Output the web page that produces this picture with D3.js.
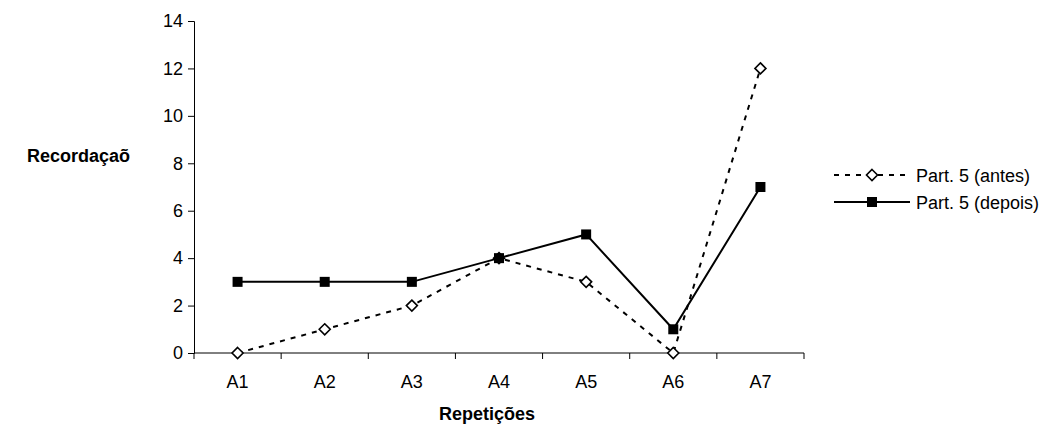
<!DOCTYPE html>
<html>
<head>
<meta charset="utf-8">
<script src="https://cdn.jsdelivr.net/npm/d3@7"></script>
<style>
  html, body { margin: 0; padding: 0; background: #fff; }
  svg text { font-family: "Liberation Sans", Arial, sans-serif; fill: #000; }
</style>
</head>
<body>
<svg id="chart" width="1050" height="433"></svg>
<script>
// Categories and series
const categories = ["A1", "A2", "A3", "A4", "A5", "A6", "A7"];
const antes = [0, 1, 2, 4, 3, 0, 12];
const depois = [3, 3, 3, 4, 5, 1, 7];
const yTicks = [0, 2, 4, 6, 8, 10, 12, 14];
const seriesNames = ["Part. 5 (antes)", "Part. 5 (depois)"];

const svg = d3.select("#chart");
const plotLeft = 194, plotRight = 804, plotTop = 21, plotBottom = 353;
const fontSize = "18px";

const x = d3.scaleBand().domain(categories).range([plotLeft, plotRight]).padding(0);
const y = d3.scaleLinear().domain([0, 14]).range([plotBottom, plotTop]);
const cx = d => x(d) + x.bandwidth() / 2;

// Y axis
const yAxis = svg.append("g")
  .attr("transform", `translate(${plotLeft},0)`)
  .call(d3.axisLeft(y).tickValues(yTicks).tickSize(6).tickPadding(5).tickFormat(d3.format("d")));
yAxis.attr("font-family", null).attr("font-size", null);
yAxis.selectAll("text").style("font-size", fontSize);
yAxis.selectAll("line, path").attr("stroke", "#000");

// X axis with ticks on band boundaries
const xg = svg.append("g").attr("transform", `translate(0,${plotBottom})`);
xg.append("line").attr("x1", plotLeft).attr("x2", plotRight).attr("stroke", "#000");
const bounds = categories.map(c => x(c)).concat([plotRight]);
xg.selectAll("line.tk").data(bounds).join("line")
  .attr("class", "tk")
  .attr("x1", d => d).attr("x2", d => d)
  .attr("y1", 0).attr("y2", 6).attr("stroke", "#000");
xg.selectAll("text").data(categories).join("text")
  .attr("x", d => cx(d)).attr("y", 35)
  .attr("text-anchor", "middle")
  .style("font-size", fontSize)
  .text(d => d);

// Axis titles
svg.append("text").attr("x", 130).attr("y", 162)
  .attr("text-anchor", "end")
  .style("font-size", fontSize).style("font-weight", "bold")
  .text("Recordaçaõ");
svg.append("text").attr("x", 487).attr("y", 420)
  .attr("text-anchor", "middle")
  .style("font-size", fontSize).style("font-weight", "bold")
  .text("Repetições");

const line = d3.line().x((d, i) => cx(categories[i])).y(d => y(d));

// "antes" series: dashed line, hollow diamonds
svg.append("path").datum(antes)
  .attr("d", line).attr("fill", "none")
  .attr("stroke", "#000").attr("stroke-width", 2)
  .attr("stroke-dasharray", "5,6");

// "depois" series: solid line, filled squares
svg.append("path").datum(depois)
  .attr("d", line).attr("fill", "none")
  .attr("stroke", "#000").attr("stroke-width", 2);

const diamond = (g, px, py) => g.append("path")
  .attr("d", `M${px},${py - 5.5}L${px + 5.5},${py}L${px},${py + 5.5}L${px - 5.5},${py}Z`)
  .attr("fill", "#fff").attr("stroke", "#000").attr("stroke-width", 1.6);
const square = (g, px, py) => g.append("rect")
  .attr("x", px - 5).attr("y", py - 5).attr("width", 10).attr("height", 10)
  .attr("fill", "#000");

const mk = svg.append("g");
antes.forEach((v, i) => diamond(mk, cx(categories[i]), y(v)));
depois.forEach((v, i) => square(mk, cx(categories[i]), y(v)));

// Legend
const lg = svg.append("g");
const rows = [175, 202];
lg.append("line").attr("x1", 834).attr("x2", 910).attr("y1", rows[0]).attr("y2", rows[0])
  .attr("stroke", "#000").attr("stroke-width", 2).attr("stroke-dasharray", "5,6");
diamond(lg, 872, rows[0]);
lg.append("line").attr("x1", 834).attr("x2", 910).attr("y1", rows[1]).attr("y2", rows[1])
  .attr("stroke", "#000").attr("stroke-width", 2);
square(lg, 872, rows[1]);
lg.selectAll("text").data(seriesNames).join("text")
  .attr("x", 916).attr("y", (d, i) => rows[i] + 6.5)
  .style("font-size", fontSize)
  .text(d => d);
</script>
</body>
</html>
